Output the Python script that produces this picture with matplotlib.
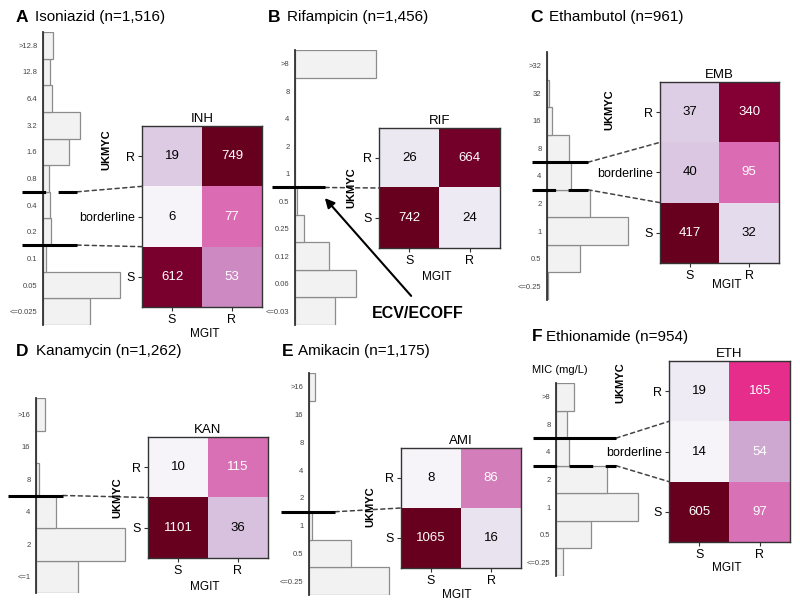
import matplotlib.pyplot as plt
import numpy as np
import matplotlib.transforms as mtransforms
from matplotlib.colors import FuncNorm
from matplotlib.lines import Line2D
from matplotlib.patches import ConnectionPatch, FancyArrowPatch

plt.rcParams['font.family'] = ['Liberation Sans', 'DejaVu Sans']
plt.rcParams['lines.scale_dashes'] = False

W, H = 800, 607

# MIC categories (bottom -> top) and isolate counts
inh_mic = ['<=0.025', '0.05', '0.1', '0.2', '0.4', '0.8', '1.6', '3.2', '6.4', '12.8', '>12.8']
inh_counts = [282, 462, 18, 48, 42, 36, 156, 222, 54, 42, 60]
rif_mic = ['<=0.03', '0.06', '0.12', '0.25', '0.5', '1', '2', '4', '8', '>8']
rif_counts = [240, 366, 204, 54, 12, 0, 0, 0, 0, 486]
emb_mic = ['<=0.25', '0.5', '1', '2', '4', '8', '16', '32', '>32']
emb_counts = [3, 198, 486, 258, 144, 132, 30, 12, 0]
kan_mic = ['<=1', '2', '4', '8', '16', '>16']
kan_counts = [252, 534, 120, 18, 0, 54]
ami_mic = ['<=0.25', '0.5', '1', '2', '4', '8', '16', '>16']
ami_counts = [480, 252, 18, 0, 0, 0, 0, 36]
eth_mic = ['<=0.25', '0.5', '1', '2', '4', '8', '>8']
eth_counts = [42, 210, 492, 306, 78, 66, 108]

# UKMYC (rows) x MGIT (columns S, R)
inh_table = [[19, 749], [6, 77], [612, 53]]
rif_table = [[26, 664], [742, 24]]
emb_table = [[37, 340], [40, 95], [417, 32]]
kan_table = [[10, 115], [1101, 36]]
ami_table = [[8, 86], [1065, 16]]
eth_table = [[19, 165], [14, 54], [605, 97]]

rows3 = ['R', 'borderline', 'S']
rows2 = ['R', 'S']
mgit = ['S', 'R']

# breakpoints: position between MIC categories (index of the upper one)
inh_cuts = [5, 3]
rif_cuts = [5]
emb_cuts = [5, 4]
kan_cuts = [3]
ami_cuts = [3]
eth_cuts = [5, 4]

panels = [
    dict(letter='A', name='Isoniazid (n=1,516)', code='INH', mic=inh_mic, counts=inh_counts,
         table=inh_table, rows=rows3, cuts=inh_cuts, dashed=[True, False],
         title=(16, 17, 19), hist=(43, 32, 325), heat=(142, 126, 262, 307), vmin=6,
         line=(22, 77), ukmyc=(106, 150), mgit=(205, 334)),
    dict(letter='B', name='Rifampicin (n=1,456)', code='RIF', mic=rif_mic, counts=rif_counts,
         table=rif_table, rows=rows2, cuts=rif_cuts, dashed=[False],
         title=(268, 17, 19), hist=(295, 50, 325), heat=(379, 128, 500, 248), vmin=17,
         line=(272, 325), ukmyc=(351, 188), mgit=(437, 277)),
    dict(letter='C', name='Ethambutol (n=961)', code='EMB', mic=emb_mic, counts=emb_counts,
         table=emb_table, rows=rows3, cuts=emb_cuts, dashed=[False, True],
         title=(530, 17, 19), hist=(547, 52, 300), heat=(660, 82, 779, 263), vmin=18,
         line=(532, 588), ukmyc=(609, 110), mgit=(727, 285)),
    dict(letter='D', name='Kanamycin (n=1,262)', code='KAN', mic=kan_mic, counts=kan_counts,
         table=kan_table, rows=rows2, cuts=kan_cuts, dashed=[False],
         title=(16, 351, 20), hist=(36, 398, 593), heat=(148, 437, 268, 558), vmin=10,
         line=(8, 63), ukmyc=(117, 498), mgit=(205, 587)),
    dict(letter='E', name='Amikacin (n=1,175)', code='AMI', mic=ami_mic, counts=ami_counts,
         table=ami_table, rows=rows2, cuts=ami_cuts, dashed=[False],
         title=(282, 351, 16), hist=(309, 373, 595), heat=(401, 448, 521, 568), vmin=8,
         line=(281, 335), ukmyc=(370, 507), mgit=(457, 595)),
    dict(letter='F', name='Ethionamide (n=954)', code='ETH', mic=eth_mic, counts=eth_counts,
         table=eth_table, rows=rows3, cuts=eth_cuts, dashed=[False, True],
         title=(532, 337, 14), hist=(556, 383, 576), heat=(669, 361, 790, 542), vmin=14,
         line=(533, 616), ukmyc=(620, 383), mgit=(727, 568)),
]

fig = plt.figure(figsize=(W / 100, H / 100), dpi=100)
pix = mtransforms.IdentityTransform()
GAMMA = 1.15


def box(x0, top, x1, bottom):
    return [x0 / W, 1 - bottom / H, (x1 - x0) / W, (bottom - top) / H]


def ftext(x, y, s, **kw):
    return fig.text(x / W, 1 - y / H, s, **kw)


def log_norm(vmin, vmax):
    lo = np.log(vmin)
    fwd = lambda v: np.clip(np.log(v) - lo, 0, None) ** GAMMA
    inv = lambda x: np.exp(np.asarray(x) ** (1 / GAMMA) + lo)
    return FuncNorm((fwd, inv), vmin=vmin, vmax=vmax)


for p in panels:
    # title
    lx, ly, off = p['title']
    ftext(lx, ly, p['letter'], fontsize=12.5, weight='bold', va='center')
    ftext(lx + off, ly, p['name'], fontsize=11, va='center')

    # MIC histogram
    sx, top, bottom = p['hist']
    n = len(p['mic'])
    ax = fig.add_axes(box(sx, top, sx + 100, bottom))
    ax.barh(range(n), p['counts'], height=1, color='#f2f2f2', edgecolor='#8c8c8c', lw=0.9)
    ax.set_ylim(-0.5, n - 0.5)
    ax.set_xlim(0, 600)
    for s in ['top', 'right', 'bottom']:
        ax.spines[s].set_visible(False)
    ax.spines['left'].set_color('#333333')
    ax.spines['left'].set_linewidth(1.3)
    ax.set_xticks([])
    ax.set_yticks(range(n), p['mic'], fontsize=5.5, color='#444444')
    ax.tick_params(axis='y', length=0, pad=4)
    ax.patch.set_visible(False)

    # UKMYC vs MGIT table
    hx0, htop, hx1, hbottom = p['heat']
    hm = fig.add_axes(box(hx0, htop, hx1, hbottom))
    arr = np.array(p['table'])
    norm = log_norm(p['vmin'], arr.max())
    hm.imshow(arr, cmap='PuRd', norm=norm, aspect='auto')
    for i in range(arr.shape[0]):
        for j in range(arr.shape[1]):
            c = 'white' if norm(arr[i, j]) > 0.28 else 'black'
            hm.text(j, i, str(arr[i, j]), ha='center', va='center', fontsize=9.5, color=c)
    hm.set_xticks([0, 1], mgit, fontsize=9)
    hm.set_yticks(range(len(p['rows'])), p['rows'], fontsize=9)
    hm.tick_params(length=3, width=0.8, color='#333333', pad=2)
    for s in hm.spines.values():
        s.set_color('#333333')
        s.set_linewidth(1)
    hm.set_title(p['code'], fontsize=9.5, pad=3)

    ftext(*p['ukmyc'], 'UKMYC', fontsize=8, weight='bold', rotation=90, ha='center', va='center')
    ftext(*p['mgit'], 'MGIT', fontsize=8.5, ha='center', va='center')

    # breakpoint lines and connectors
    trans = mtransforms.blended_transform_factory(pix, ax.transData)
    x_start, x_end = p['line']
    for k, (cut, dashed) in enumerate(zip(p['cuts'], p['dashed'])):
        b = cut - 0.5
        ls = (0, (17, 9)) if dashed else '-'
        fig.add_artist(Line2D([x_start, x_end], [b, b], transform=trans, color='black',
                              lw=2.2, ls=ls, solid_capstyle='butt', dash_capstyle='butt'))
        con = ConnectionPatch(xyA=(x_end, b), coordsA=trans, xyB=(-0.5, k + 0.5),
                              coordsB=hm.transData, color='#444444', lw=1.1, ls=(0, (3, 2.5)))
        fig.add_artist(con)

ftext(560, 370, 'MIC (mg/L)', fontsize=8, ha='center', va='center')

# ECV/ECOFF annotation on panel B
ftext(418, 313, 'ECV/ECOFF', fontsize=11.5, weight='bold', ha='center', va='center')
arrow = FancyArrowPatch((413, H - 298), (323, H - 196), transform=pix, arrowstyle='-|>',
                        mutation_scale=14, lw=1.5, color='black')
fig.add_artist(arrow)

plt.savefig('out.png', dpi=100)
